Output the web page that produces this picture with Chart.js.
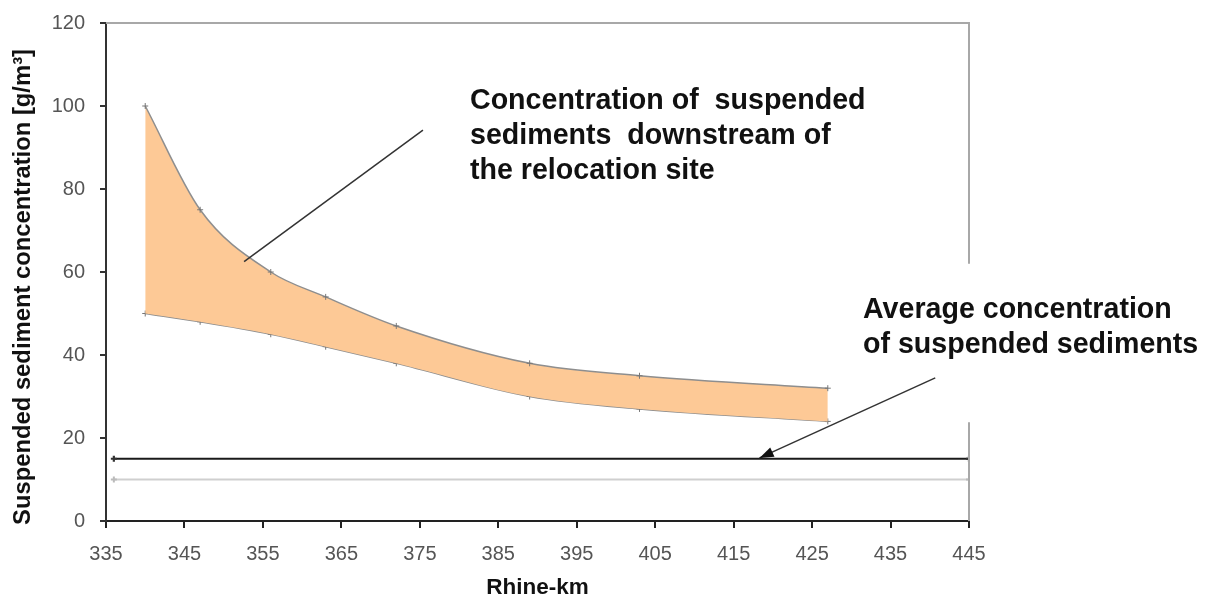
<!DOCTYPE html>
<html>
<head>
<meta charset="utf-8">
<style>
  html, body { margin: 0; padding: 0; background: #fff; }
  canvas { display: block; }
</style>
<script src="https://cdn.jsdelivr.net/npm/chart.js@4/dist/chart.umd.min.js"></script>
</head>
<body>
<canvas id="sediments" width="1209" height="601"></canvas>
<script>
// Rhine-km stations and the concentration band downstream of the relocation site
const rhineKm = [340, 347, 356, 363, 372, 389, 403, 427];
const upperConc = [100, 75, 60, 54, 47, 38, 35, 32];
const lowerConc = [50, 48, 45, 42, 38, 30, 27, 24];

// average concentration and the light reference line below it
const levelKm = [336, 445];
const averageConc = [15, 15];
const referenceConc = [10, 10];

const xTickValues = [335, 345, 355, 365, 375, 385, 395, 405, 415, 425, 435, 445];
const yTickValues = [0, 20, 40, 60, 80, 100, 120];

const FONT = "'Liberation Sans', Arial, sans-serif";

const pts = (xs, ys) => xs.map((x, i) => ({ x, y: ys[i] }));

// frame, leader lines, notes and axis titles
const notes = {
  id: 'notes',
  afterDraw(chart) {
    const { ctx, chartArea: a, scales: { x, y } } = chart;
    ctx.save();

    // light top / right frame, right side broken behind the second note
    ctx.strokeStyle = '#a8a8a8';
    ctx.lineWidth = 2;
    ctx.beginPath();
    ctx.moveTo(a.left, a.top);
    ctx.lineTo(a.right, a.top);
    ctx.lineTo(a.right, y.getPixelForValue(62));
    ctx.moveTo(a.right, y.getPixelForValue(23.8));
    ctx.lineTo(a.right, a.bottom);
    ctx.stroke();

    // leader to the band
    ctx.strokeStyle = '#333';
    ctx.lineWidth = 1.5;
    ctx.beginPath();
    ctx.moveTo(x.getPixelForValue(375.4), y.getPixelForValue(94.2));
    ctx.lineTo(x.getPixelForValue(352.6), y.getPixelForValue(62.5));
    ctx.stroke();

    // arrow to the average line
    const x0 = x.getPixelForValue(440.7), y0 = y.getPixelForValue(34.5);
    const x1 = x.getPixelForValue(418.3), y1 = y.getPixelForValue(15.2);
    ctx.beginPath();
    ctx.moveTo(x0, y0);
    ctx.lineTo(x1, y1);
    ctx.stroke();
    const ang = Math.atan2(y1 - y0, x1 - x0);
    ctx.fillStyle = '#111';
    ctx.beginPath();
    ctx.moveTo(x1, y1);
    ctx.lineTo(x1 - 15 * Math.cos(ang - 0.35), y1 - 15 * Math.sin(ang - 0.35));
    ctx.lineTo(x1 - 15 * Math.cos(ang + 0.35), y1 - 15 * Math.sin(ang + 0.35));
    ctx.closePath();
    ctx.fill();

    // notes
    ctx.fillStyle = '#111';
    ctx.font = 'bold 28.6px ' + FONT;
    ctx.textAlign = 'left';
    ctx.textBaseline = 'middle';
    ['Concentration of  suspended', 'sediments  downstream of', 'the relocation site']
      .forEach((t, i) => ctx.fillText(t, 470, 101 + i * 35));
    ['Average concentration', 'of suspended sediments']
      .forEach((t, i) => ctx.fillText(t, 863, 310 + i * 35));

    // axis titles
    ctx.font = 'bold 22.5px ' + FONT;
    ctx.textAlign = 'center';
    ctx.fillText('Rhine-km', (a.left + a.right) / 2, 588);
    ctx.font = 'bold 23.8px ' + FONT;
    ctx.translate(23, 287);
    ctx.rotate(-Math.PI / 2);
    ctx.fillText('Suspended sediment concentration [g/m³]', 0, 0);

    ctx.restore();
  }
};

const lineStyle = {
  borderColor: '#8e8e8e',
  borderWidth: 1.5,
  pointStyle: 'cross',
  pointRadius: 3,
  pointBorderColor: '#777',
  pointBorderWidth: 1,
  cubicInterpolationMode: 'monotone'
};

new Chart(document.getElementById('sediments'), {
  type: 'line',
  data: {
    datasets: [
      { ...lineStyle, label: 'upper', data: pts(rhineKm, upperConc),
        fill: '+1', backgroundColor: 'rgb(253,201,150)' },
      { ...lineStyle, label: 'lower', data: pts(rhineKm, lowerConc), fill: false },
      { label: 'average', data: pts(levelKm, averageConc), borderColor: '#1a1a1a',
        borderWidth: 2.2, pointStyle: 'cross', pointRadius: 3, pointBorderColor: '#333', fill: false },
      { label: 'reference', data: pts(levelKm, referenceConc), borderColor: '#cfcfcf',
        borderWidth: 2, pointStyle: 'cross', pointRadius: 3, pointBorderColor: '#bbb', fill: false }
    ]
  },
  options: {
    responsive: false,
    animation: false,
    devicePixelRatio: 1,
    layout: { padding: { left: 0, right: 240, top: 23, bottom: 0 } },
    plugins: { legend: { display: false }, tooltip: { enabled: false } },
    scales: {
      x: {
        type: 'linear',
        min: 335, max: 445,
        afterBuildTicks: s => { s.ticks = xTickValues.map(v => ({ value: v })); },
        afterFit: s => { s.height = 80; },
        grid: { display: true, drawOnChartArea: false, drawTicks: true, tickLength: 7, color: '#222', lineWidth: 2 },
        border: { display: true, color: '#222', width: 2 },
        ticks: { color: '#555', padding: 14, font: { family: FONT, size: 20 }, maxRotation: 0 }
      },
      y: {
        min: 0, max: 120,
        afterBuildTicks: s => { s.ticks = yTickValues.map(v => ({ value: v })); },
        // keep the label padding from pushing the plot area down
        afterFit: s => { s.width = 106; s.paddingTop = 0; s.paddingBottom = 0; },
        grid: { display: true, drawOnChartArea: false, drawTicks: true, tickLength: 6, color: '#333', lineWidth: 2 },
        border: { display: true, color: '#333', width: 2 },
        ticks: { color: '#555', padding: 15, font: { family: FONT, size: 20 } }
      }
    }
  },
  plugins: [notes]
});
</script>
</body>
</html>
